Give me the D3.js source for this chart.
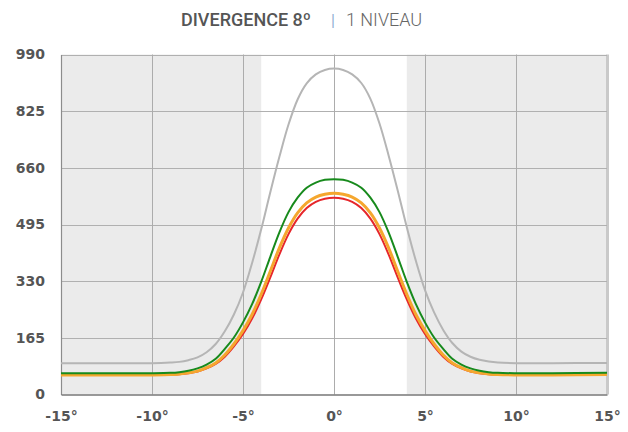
<!DOCTYPE html>
<html>
<head>
<meta charset="utf-8">
<script src="https://cdn.jsdelivr.net/npm/d3@7"></script>
<style>
  html, body { margin: 0; padding: 0; background: #fff; }
  svg { display: block; }
</style>
</head>
<body>
<svg id="chart" width="628" height="432"></svg>
<script>
// ---- data ----
const angles = [-15, -12, -10, -9, -8.5, -8, -7.5, -7, -6.5, -6, -5.5, -5, -4.5, -4, -3.5, -3, -2.5, -2, -1.5, -1, -0.5, 0,
                0.5, 1, 1.5, 2, 2.5, 3, 3.5, 4, 4.5, 5, 5.5, 6, 6.5, 7, 7.5, 8, 8.5, 9, 10, 12, 15];
const grayValues = [91, 91, 91, 93, 95, 100, 108, 123, 147, 184, 233, 297, 383, 481, 589, 692, 786, 859, 906, 932, 945, 949,
                    945, 932, 907, 861, 789, 696, 594, 487, 389, 304, 239, 188, 150, 125, 110, 101, 96, 93, 91, 91, 92];
const greenValues = [62, 62, 62, 63, 65, 69, 76, 87, 104, 133, 166, 210, 263, 328, 401, 472, 531, 573, 602, 617, 625, 627,
                     625, 617, 602, 573, 531, 472, 401, 328, 263, 210, 166, 133, 104, 87, 76, 69, 65, 63, 62, 62, 63];
const orangeValues = [57, 57, 57, 58, 60, 63, 68, 78, 92, 115, 147, 186, 233, 292, 359, 427, 485, 529, 558, 575, 583, 586,
                      583, 575, 558, 529, 485, 427, 359, 292, 233, 186, 147, 115, 92, 78, 68, 63, 60, 58, 57, 57, 58];
const redValues = [57, 57, 57, 58, 59, 62, 67, 76, 89, 110, 140, 176, 221, 277, 341, 408, 467, 512, 543, 561, 570, 573,
                   570, 561, 543, 512, 467, 408, 341, 277, 221, 176, 140, 110, 89, 76, 67, 62, 59, 58, 57, 57, 57];
const yTicks = [0, 165, 330, 495, 660, 825, 990];
const xTicks = [-15, -10, -5, 0, 5, 10, 15];
const whiteBand = [-4, 4];
const titleBold = "DIVERGENCE 8º";
const titleSep = "|";
const titleLight = "1 NIVEAU";

// ---- layout ----
const svg = d3.select("#chart");
const margin = { left: 61, right: 21, top: 54.5, bottom: 37.5 };
const W = 628, H = 432;
const x = d3.scaleLinear().domain([-15, 15]).range([margin.left, W - margin.right]);
const y = d3.scaleLinear().domain([0, 990]).range([H - margin.bottom, margin.top]);

// background
svg.append("rect")
  .attr("x", x(-15)).attr("y", y(990))
  .attr("width", x(15) - x(-15)).attr("height", y(0) - y(990))
  .attr("fill", "#ebebeb");
svg.append("rect")
  .attr("x", x(whiteBand[0])).attr("y", y(990))
  .attr("width", x(whiteBand[1]) - x(whiteBand[0])).attr("height", y(0) - y(990))
  .attr("fill", "#ffffff");

// right edge strip
svg.append("rect")
  .attr("x", x(15) - 1).attr("y", y(990))
  .attr("width", 3).attr("height", y(0) - y(990))
  .attr("fill", "#c9c9c9");

// grid
const grid = svg.append("g");
grid.selectAll("line.h").data(yTicks.filter(d => d > 0)).enter().append("line")
  .attr("x1", x(-15)).attr("x2", x(15))
  .attr("y1", d => Math.round(y(d)) + 0.5).attr("y2", d => Math.round(y(d)) + 0.5)
  .attr("stroke", "#b0b0b0").attr("stroke-width", 1);
grid.selectAll("line.v").data(xTicks.filter(d => d > -15 && d < 15)).enter().append("line")
  .attr("y1", y(990)).attr("y2", y(0))
  .attr("x1", d => Math.round(x(d)) + 0.5).attr("x2", d => Math.round(x(d)) + 0.5)
  .attr("stroke", "#acacac").attr("stroke-width", 1);

// axes
const yAxis = d3.axisLeft(y).tickValues(yTicks).tickSize(0).tickPadding(16);
const gy = svg.append("g").attr("transform", `translate(${x(-15)},0)`).call(yAxis);
gy.select(".domain").attr("stroke", "#8c8c8c").attr("stroke-width", 1.2);
gy.selectAll("text")
  .attr("font-family", "'DejaVu Sans', sans-serif").attr("font-weight", "bold")
  .attr("font-size", 14).attr("fill", "#555");

const xAxis = d3.axisBottom(x).tickValues(xTicks).tickSize(0).tickPadding(17).tickFormat(d => d + "°");
const gx = svg.append("g").attr("transform", `translate(0,${y(0)})`).call(xAxis);
gx.select(".domain").attr("stroke", "#777").attr("stroke-width", 1.3);
gx.selectAll("text")
  .attr("font-family", "'DejaVu Sans', sans-serif").attr("font-weight", "bold")
  .attr("font-size", 14).attr("fill", "#555");

// lines
const line = vals => d3.line()
  .x((d, i) => x(angles[i]))
  .y(d => y(d))
  .curve(d3.curveCatmullRom.alpha(0.5))(vals);

svg.append("path").attr("d", line(grayValues)).attr("fill", "none")
  .attr("stroke", "#b5b5b5").attr("stroke-width", 2);
svg.append("path").attr("d", line(redValues)).attr("fill", "none")
  .attr("stroke", "#e6262b").attr("stroke-width", 2);
svg.append("path").attr("d", line(orangeValues)).attr("fill", "none")
  .attr("stroke", "#f5a72e").attr("stroke-width", 3);
svg.append("path").attr("d", line(greenValues)).attr("fill", "none")
  .attr("stroke", "#178a1c").attr("stroke-width", 2);

// title
const title = svg.append("text")
  .attr("x", 181).attr("y", 26)
  .attr("font-family", "Roboto, sans-serif").attr("font-size", 18);
title.append("tspan").text(titleBold).attr("font-weight", 500).attr("fill", "#555");
title.append("tspan").text(titleSep).attr("dx", 20).attr("fill", "#8fb0d3").attr("font-size", 16);
title.append("tspan").text(titleLight).attr("dx", 11).attr("font-weight", 300).attr("fill", "#666");
</script>
</body>
</html>
